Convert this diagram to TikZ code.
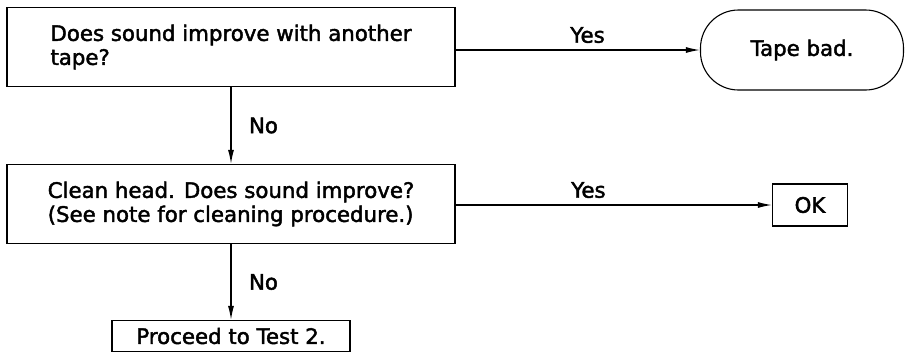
\documentclass[tikz,border=0pt]{standalone}
\usepackage{fontspec}
\newfontfamily\medfont{DejaVu Sans}[FakeBold=2]
\usetikzlibrary{arrows.meta}
\tikzset{
  qbox/.style={draw,line width=1.1pt,minimum width=448pt,minimum height=79pt,align=left,inner sep=0pt},
  endbox/.style={draw,line width=1.1pt,inner sep=0pt},
  flow/.style={line width=1.3pt,-{Latex[length=14pt,width=6pt]}}
}
\begin{document}
\begin{tikzpicture}[x=1pt,y=-1pt,font=\medfont\fontsize{21.3}{24}\selectfont]
\useasboundingbox (0,0) rectangle (906,359);
\node[qbox] (q1) at (231,47) {Does sound improve with another\\tape?};
\node[qbox] (q2) at (231,204) {Clean head. Does sound improve?\\(See note for cleaning procedure.)};
\node[endbox,minimum width=238pt,minimum height=31pt] (test) at (231,336) {Proceed to Test 2.};
\node[endbox,rounded corners=38pt,minimum width=203pt,minimum height=80pt] (bad) at (802,50) {Tape bad.};
\node[endbox,minimum width=75pt,minimum height=42pt] (ok) at (810,205) {OK};
\draw[flow] (q1.east |- bad.west) -- (bad.west) node[pos=0.54,above=3pt]{Yes};
\draw[flow] (q2.east |- ok.west) -- (ok.west) node[pos=0.42,above=3pt]{Yes};
\draw[flow] (q1.south -| test.north) -- (q2.north -| test.north) node[midway,right=14pt]{No};
\draw[flow] (q2.south -| test.north) -- (test.north) node[midway,right=14pt]{No};
\end{tikzpicture}
\end{document}
